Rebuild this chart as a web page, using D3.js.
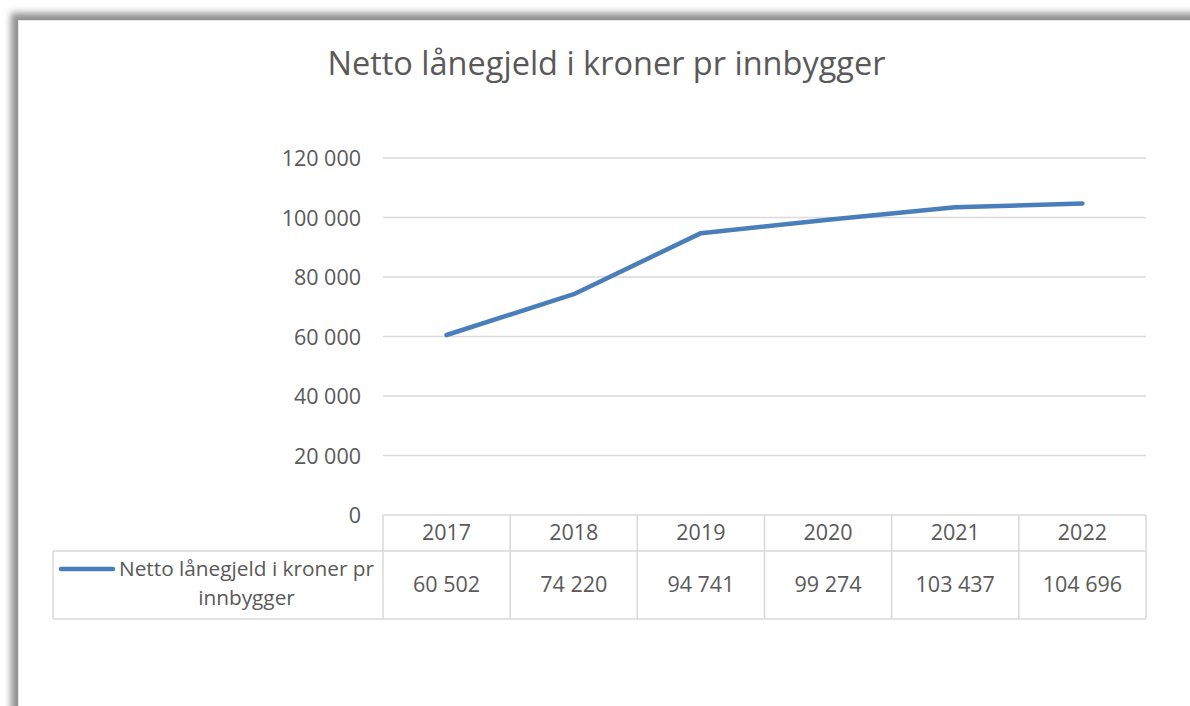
<!DOCTYPE html>
<html><head><meta charset="utf-8">
<script src="https://cdn.jsdelivr.net/npm/d3@7"></script>
<style>html,body{margin:0;padding:0;background:#fff;overflow:hidden}</style>
</head><body><svg id="c" width="1190" height="706"></svg>
<script>
const title = "Netto lånegjeld i kroner pr innbygger";
const seriesName = "Netto lånegjeld i kroner pr innbygger";
const years = ["2017","2018","2019","2020","2021","2022"];
const values = [60502, 74220, 94741, 99274, 103437, 104696];
const yTicks = [0, 20000, 40000, 60000, 80000, 100000, 120000];

const svg = d3.select("#c");
const font = "'Open Sans', 'Noto Sans', sans-serif";
const txt = "#595959";
const grid = "#d9d9d9";
const lineCol = "#4a7ebb";
const fs = 21.5;

// frame shadow
const defs = svg.append("defs");
defs.append("filter").attr("id","blur").attr("x","-5%").attr("y","-5%").attr("width","110%").attr("height","110%")
  .append("feGaussianBlur").attr("stdDeviation", 3.5);
svg.append("rect").attr("x",11).attr("y",13).attr("width",1300).attr("height",900)
  .attr("fill","#8f8f8f").attr("filter","url(#blur)");
svg.append("rect").attr("x",18).attr("y",20).attr("width",1300).attr("height",900).attr("fill","#e6e6e6");
svg.append("rect").attr("x",19).attr("y",21).attr("width",1300).attr("height",900).attr("fill","#fff");

// title
svg.append("text").attr("x",606.5).attr("y",75).attr("text-anchor","middle")
  .attr("font-family",font).attr("font-size",32.5).attr("fill",txt).text(title);

const left = 383, right = 1146;
const x = d3.scaleBand().domain(years).range([left,right]);
const y = d3.scaleLinear().domain([0,120000]).range([515,158]);
const fmt = v => d3.format(",")(v).replace(/,/g," ");

// gridlines
svg.append("g").selectAll("line").data(yTicks.filter(t=>t>0)).join("line")
  .attr("x1",left).attr("x2",right).attr("y1",d=>y(d)).attr("y2",d=>y(d))
  .attr("stroke",grid).attr("stroke-width",1.3);

// y axis labels
const yAxis = d3.axisLeft(y).tickValues(yTicks).tickFormat(fmt).tickSize(0).tickPadding(22);
const ya = svg.append("g").attr("transform",`translate(${left},0)`).call(yAxis);
ya.select(".domain").remove();
ya.selectAll("text").attr("font-family",font).attr("font-size",fs).attr("fill",txt).attr("dy","0.36em");

// data table
const rowTop = 515, rowMid = 551, rowBot = 619, legLeft = 53;
const tg = svg.append("g").attr("stroke",grid).attr("stroke-width",1.5).attr("fill","none");
tg.append("line").attr("x1",left).attr("x2",right).attr("y1",rowTop).attr("y2",rowTop);
tg.append("line").attr("x1",legLeft).attr("x2",right).attr("y1",rowMid).attr("y2",rowMid);
tg.append("line").attr("x1",legLeft).attr("x2",right).attr("y1",rowBot).attr("y2",rowBot);
tg.append("line").attr("x1",legLeft).attr("x2",legLeft).attr("y1",rowMid).attr("y2",rowBot);
tg.selectAll("line.v").data(years.map(d=>x(d)).concat([right])).join("line").attr("class","v")
  .attr("x1",d=>d).attr("x2",d=>d).attr("y1",rowTop).attr("y2",rowBot);

// x axis (header years)
const xAxis = d3.axisBottom(x).tickSize(0).tickPadding(0);
const xa = svg.append("g").attr("transform",`translate(0,${rowTop})`).call(xAxis);
xa.select(".domain").remove();
xa.selectAll("text").attr("font-family",font).attr("font-size",fs).attr("fill",txt).attr("y",25).attr("dy",0);

// values row
svg.append("g").selectAll("text").data(values).join("text")
  .attr("x",(d,i)=>x(years[i])+x.bandwidth()/2).attr("y",592)
  .attr("text-anchor","middle").attr("font-family",font).attr("font-size",fs).attr("fill",txt)
  .text(d=>fmt(d));

// legend in table
svg.append("line").attr("x1",61).attr("x2",113).attr("y1",569).attr("y2",569)
  .attr("stroke",lineCol).attr("stroke-width",4.5).attr("stroke-linecap","round");
const lt = svg.append("text").attr("font-family",font).attr("font-size",20.8).attr("fill",txt).attr("text-anchor","middle");
lt.append("tspan").attr("x",246.5).attr("y",576).text("Netto lånegjeld i kroner pr");
lt.append("tspan").attr("x",246.5).attr("y",605).text("innbygger");

// line
const line = d3.line().x((d,i)=>x(years[i])+x.bandwidth()/2).y(d=>y(d));
svg.append("path").datum(values).attr("d",line).attr("fill","none")
  .attr("stroke",lineCol).attr("stroke-width",4.5).attr("stroke-linecap","round").attr("stroke-linejoin","round");
</script></body></html>
